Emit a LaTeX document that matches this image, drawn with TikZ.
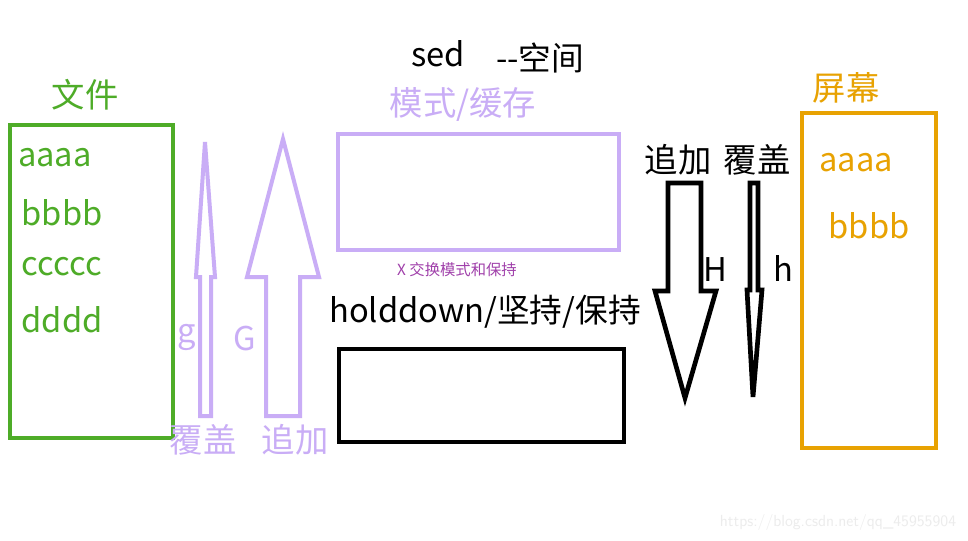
\documentclass[tikz,border=0pt]{standalone}
\usepackage{fontspec}
\setmainfont{Noto Sans CJK SC}
\definecolor{fgreen}{RGB}{78,172,40}
\definecolor{lav}{RGB}{201,173,246}
\definecolor{scr}{RGB}{232,162,2}
\definecolor{xpur}{RGB}{160,64,170}
\definecolor{wm}{RGB}{236,236,236}
\begin{document}
\begin{tikzpicture}[x=0.75pt,y=-0.75pt,
  big/.style={font=\fontsize{24.5}{24.5}\selectfont, inner sep=0pt},
  lbl/.style={font=\fontsize{25}{25}\selectfont, inner sep=0pt},
  small/.style={font=\fontsize{11.5}{11.5}\selectfont, inner sep=0pt},
  boxg/.style={draw=fgreen, line width=3.2pt},
  boxl/.style={draw=lav, line width=3pt},
  boxb/.style={draw=black, line width=3.2pt},
  boxo/.style={draw=scr, line width=3.2pt},
  arrl/.style={draw=lav, line width=3pt, line join=miter},
  arrb/.style={draw=black, line width=3.5pt, line join=miter}]
\useasboundingbox (0,0) rectangle (968,540);
\fill[white] (0,0) rectangle (968,540);

% file box
\node[boxg, minimum width=163*0.75pt, minimum height=313*0.75pt, anchor=north west, inner sep=0pt] (file) at (8,123) {};
\node[lbl, text=fgreen] (filet) at (85,95) {文件};
\node[big, text=fgreen] (fa) at (55,158) {aaaa};
\node[big, text=fgreen] (fb) at (62,213) {bbbb};
\node[big, text=fgreen] (fc) at (62,267) {ccccc};
\node[big, text=fgreen] (fd) at (62,320) {dddd};

% lavender arrows
\draw[arrl] (200,416) -- (200,277) -- (196,277) -- (205,142) -- (215,277) -- (211,277) -- (211,416) -- cycle;
\draw[arrl] (266,416) -- (266,277) -- (247,277) -- (283,139) -- (319,277) -- (300,277) -- (300,416) -- cycle;
\node[big, text=lav] (g) at (187,337) {g};
\node[big, text=lav] (G) at (245,339) {G};
\node[lbl, text=lav] (fg) at (203,440) {覆盖};
\node[lbl, text=lav] (fG) at (295,440) {追加};

% center
\node[big] (sed) at (438,54) {sed};
\node[big] (sp) at (540,58) {-{}-空间};
\node[lbl, text=lav] (mt) at (463,104) {模式/缓存};
\node[boxl, minimum width=281*0.75pt, minimum height=116*0.75pt, anchor=north west, inner sep=0pt] (pat) at (336,132) {};
\node[small, text=xpur] (x) at (457,270) {X 交换模式和保持};
\node[big] (ht) at (485,312) {holddown/坚持/保持};
\node[boxb, minimum width=285*0.75pt, minimum height=93*0.75pt, anchor=north west, inner sep=0pt] (hold) at (337,347) {};

% black arrows
\draw[arrb] (668,183) -- (668,291) -- (655,291) -- (685,398) -- (716,291) -- (701,291) -- (701,183) -- cycle;
\draw[arrb] (750,183) -- (750,290) -- (747,290) -- (753,397) -- (762,290) -- (758,290) -- (758,183) -- cycle;
\node[big] (H) at (715,270) {H};
\node[big] (h) at (783,268) {h};
\node[lbl] (bH) at (678,160) {追加};
\node[lbl] (bh) at (757,160) {覆盖};

% screen
\node[boxo, minimum width=134*0.75pt, minimum height=335*0.75pt, anchor=north west, inner sep=0pt] (scr) at (800,111) {};
\node[lbl, text=scr] (st) at (846,88) {屏幕};
\node[big, text=scr] (sa) at (856,163) {aaaa};
\node[big, text=scr] (sb) at (869,226) {bbbb};

\node[font=\fontsize{12}{12}\selectfont\sffamily, text=wm, inner sep=0pt] (wmk) at (838,522) {https://blog.csdn.net/qq\_45955904};
\end{tikzpicture}
\end{document}
